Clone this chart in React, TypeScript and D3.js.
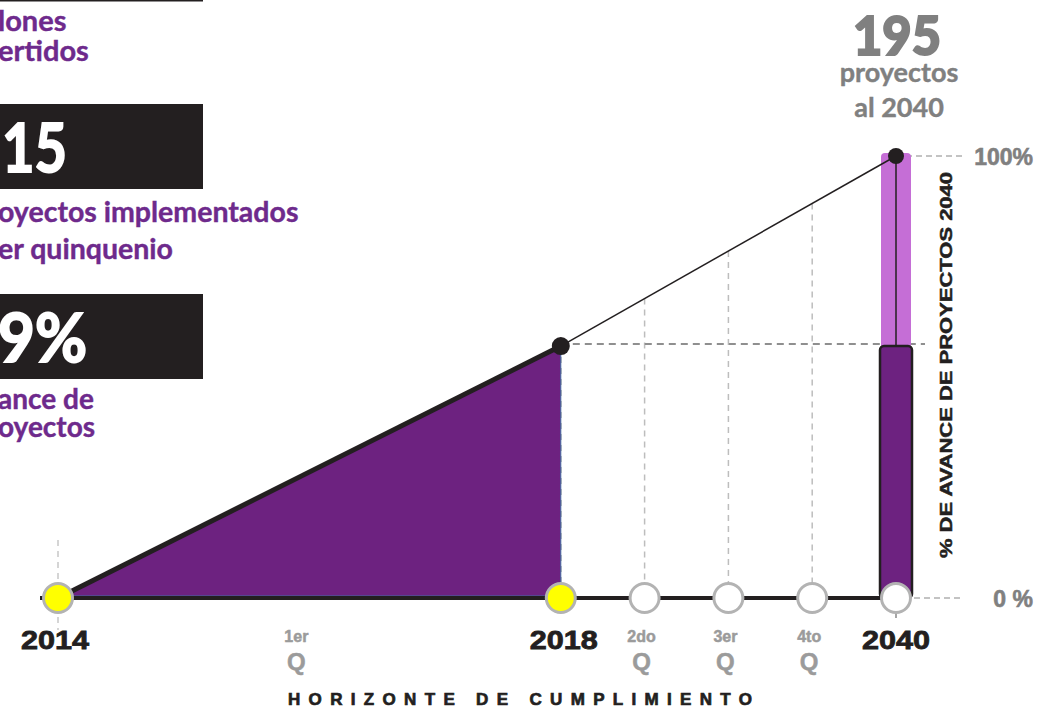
import React from "react";
import * as d3 from "d3";

// ---------- data ----------
const years = ["2014", "2018", "2040"];
const yearSteps = [0, 6, 10];
const yearProgress = [0, 57, 100];
const quarterTop = ["1er", "2do", "3er", "4to"];
const quarterBottom = ["Q", "Q", "Q", "Q"];
const quarterSteps = [2.88, 7, 8, 9];
const markerSteps = [0, 6, 7, 8, 9, 10];
const markerDone = [true, true, false, false, false, false];
const gridSteps = [7, 8, 9];
const pctTicks = [100, 0];
const pctTickLabels = ["100%", "0 %"];
const topCaption = ["lones", "ertidos"];
const statValues = ["15", "9%"];
const statCaptions = [
  ["oyectos implementados", "er quinquenio"],
  ["ance de", "oyectos"],
];
const headline = ["195", "proyectos", "al 2040"];
const xTitle = "HORIZONTE DE CUMPLIMIENTO";
const yTitle = "% DE AVANCE DE PROYECTOS 2040";

const W = 1037;
const H = 709;

const PURPLE_TXT = "#6e2a8c";
const DARK = "#231f20";
const FILL = "#6d2280";
const LIGHT = "#c56ed6";
const GREY_TXT = "#808080";

export default function App() {
  const x = d3.scaleLinear().domain([0, 10]).range([58, 896]);
  const y = d3.scaleLinear().domain([0, 100]).range([598, 156]);

  const x0 = x(yearSteps[0]);
  const x1 = x(yearSteps[1]);
  const x2 = x(yearSteps[2]);
  const y0 = y(yearProgress[0]);
  const y1 = y(yearProgress[1]);
  const y2 = y(yearProgress[2]);

  const area = d3
    .area<[number, number]>()
    .x((d) => x(d[0]))
    .y0(y(0))
    .y1((d) => y(d[1]));
  const pts: [number, number][] = [
    [yearSteps[0], yearProgress[0]],
    [yearSteps[1], yearProgress[1]],
  ];
  const line = d3.line<[number, number]>().x((d) => x(d[0])).y((d) => y(d[1]));

  const proj = d3
    .scaleLinear()
    .domain([yearSteps[1], yearSteps[2]])
    .range([yearProgress[1], yearProgress[2]]);

  const purpleFont = "Lato, 'Open Sans', sans-serif";
  const numFont = "'Liberation Sans', Arial, sans-serif";

  return (
    <svg
      width={W}
      height={H}
      style={{ position: "absolute", left: 0, top: 0, background: "#fff" }}
    >
      {/* ---------- left panel ---------- */}
      <line x1={0} x2={203} y1={0.5} y2={0.5} stroke={DARK} strokeWidth={2} />
      {topCaption.map((t, i) => (
        <text
          key={t}
          x={-2}
          y={31 + i * 30}
          fontFamily={purpleFont}
          fontWeight={700}
          fontSize={29}
          fill={PURPLE_TXT}
          stroke={PURPLE_TXT}
          strokeWidth={0.4}
        >
          {t}
        </text>
      ))}
      {statValues.map((v, i) => {
        const top = 104 + i * 190;
        return (
          <g key={v}>
            <rect x={0} y={top} width={203} height={85} fill={DARK} />
            <text
              x={i === 0 ? 2 : -2}
              y={top + 68}
              fontFamily={purpleFont}
              fontWeight={700}
              fontSize={66}
              fill="#fff"
              stroke="#fff"
              strokeWidth={2}
              textLength={i === 0 ? 65 : 89}
              lengthAdjust="spacingAndGlyphs"
            >
              {v}
            </text>
            {statCaptions[i].map((c, j) => (
              <text
                key={c}
                x={-2}
                y={i === 0 ? top + 118 + j * 37 : top + 115 + j * 28}
                fontFamily={purpleFont}
                fontWeight={700}
                fontSize={i === 0 ? 28.5 : 28}
                fill={PURPLE_TXT}
                stroke={PURPLE_TXT}
                strokeWidth={0.4}
              >
                {c}
              </text>
            ))}
          </g>
        );
      })}

      {/* ---------- headline ---------- */}
      <text
        x={897}
        y={55}
        textAnchor="middle"
        fontFamily={purpleFont}
        fontWeight={900}
        fontSize={54}
        fill={GREY_TXT}
        stroke={GREY_TXT}
        strokeWidth={2}
        textLength={88}
        lengthAdjust="spacingAndGlyphs"
      >
        {headline[0]}
      </text>
      <text
        x={899}
        y={82}
        textAnchor="middle"
        fontFamily={purpleFont}
        fontWeight={700}
        fontSize={27}
        fill={GREY_TXT}
        stroke={GREY_TXT}
        strokeWidth={0.4}
      >
        {headline[1]}
      </text>
      <text
        x={899}
        y={117}
        textAnchor="middle"
        fontFamily={purpleFont}
        fontWeight={700}
        fontSize={27}
        fill={GREY_TXT}
        stroke={GREY_TXT}
        strokeWidth={0.4}
      >
        {headline[2]}
      </text>

      {/* ---------- grid / guides ---------- */}
      {gridSteps.map((s) => (
        <line
          key={s}
          x1={x(s)}
          x2={x(s)}
          y1={y(proj(s))}
          y2={y(0) - 14}
          stroke="#bdbdbd"
          strokeWidth={1.5}
          strokeDasharray="6,5"
        />
      ))}
      <line
        x1={x0}
        x2={x0}
        y1={540}
        y2={630}
        stroke="#c8c8c8"
        strokeWidth={1.5}
        strokeDasharray="6,5"
      />
      <line
        x1={x1}
        x2={x1}
        y1={y1}
        y2={y0}
        stroke="#999"
        strokeWidth={1.5}
        strokeDasharray="6,5"
      />
      <line
        x1={x1}
        x2={925}
        y1={y1 - 2}
        y2={y1 - 2}
        stroke="#8f8f8f"
        strokeWidth={2}
        strokeDasharray="7,5"
      />
      <line
        x1={x2}
        x2={964}
        y1={y2}
        y2={y2}
        stroke="#b0b0b0"
        strokeWidth={1.5}
        strokeDasharray="6,4"
      />
      <line
        x1={914}
        x2={962}
        y1={y0}
        y2={y0}
        stroke="#b0b0b0"
        strokeWidth={1.5}
        strokeDasharray="6,4"
      />

      {/* ---------- area ---------- */}
      <path d={area(pts) || ""} fill={FILL} />
      <line x1={x1} x2={x1} y1={y1} y2={y0} stroke="#3f6aa0" strokeWidth={1} />
      <line x1={x0} x2={x1} y1={y0 - 2} y2={y0 - 2} stroke="#3f6aa0" strokeWidth={1} />

      {/* ---------- 2040 bar ---------- */}
      <rect
        x={x2 - 15}
        y={y2 - 3}
        width={30}
        height={y1 - y2 + 10}
        rx={4}
        fill={LIGHT}
      />
      <rect
        x={x2 - 16}
        y={y1}
        width={32}
        height={y0 - y1}
        rx={4}
        fill={FILL}
        stroke={DARK}
        strokeWidth={2.5}
      />
      <line x1={x2} x2={x2} y1={y2} y2={y1} stroke={DARK} strokeWidth={1.5} />

      {/* ---------- lines ---------- */}
      <line x1={40} x2={x2} y1={y0} y2={y0} stroke={DARK} strokeWidth={4} />
      <path d={line(pts) || ""} fill="none" stroke={DARK} strokeWidth={5} />
      <line x1={x1} x2={x2} y1={y1} y2={y2} stroke={DARK} strokeWidth={1.5} />
      <line x1={x2} x2={x2} y1={y0 + 10} y2={y0 + 20} stroke="#888" strokeWidth={1.5} />

      {/* ---------- markers ---------- */}
      {markerSteps.map((s, i) => (
        <circle
          key={s}
          cx={x(s)}
          cy={y0}
          r={14.5}
          fill={markerDone[i] ? "#ffff00" : "#fff"}
          stroke="#b3b3b3"
          strokeWidth={3}
        />
      ))}
      <circle cx={x1} cy={y1} r={9} fill={DARK} />
      <circle cx={x2} cy={y2} r={8} fill={DARK} />

      {/* ---------- x labels ---------- */}
      {years.map((t, i) => (
        <text
          key={t}
          x={x(yearSteps[i]) + (i === 0 ? -3 : i === 1 ? 3 : 0)}
          y={649}
          textAnchor="middle"
          fontFamily={numFont}
          fontWeight={700}
          fontSize={26}
          fill={DARK}
          stroke={DARK}
          strokeWidth={0.8}
          textLength={68}
          lengthAdjust="spacingAndGlyphs"
        >
          {t}
        </text>
      ))}
      {quarterSteps.map((s, i) => (
        <g
          key={quarterTop[i]}
          fill="#9b9b9b"
          stroke="#9b9b9b"
          strokeWidth={0.5}
          fontFamily={numFont}
          fontWeight={700}
        >
          <text x={x(s) - 3} y={642} textAnchor="middle" fontSize={16}>
            {quarterTop[i]}
          </text>
          <text x={x(s) - 3} y={670} textAnchor="middle" fontSize={24}>
            {quarterBottom[i]}
          </text>
        </g>
      ))}
      <text
        x={520}
        y={705}
        textAnchor="middle"
        fontFamily={numFont}
        fontWeight={700}
        fontSize={17}
        fill={DARK}
        stroke={DARK}
        strokeWidth={0.7}
        textLength={464}
        lengthAdjust="spacing"
      >
        {xTitle}
      </text>

      {/* ---------- y labels ---------- */}
      {pctTicks.map((p, i) => (
        <text
          key={p}
          x={1033}
          y={y(p) + 9}
          textAnchor="end"
          fontFamily={numFont}
          fontWeight={700}
          fontSize={23}
          fill={GREY_TXT}
          stroke={GREY_TXT}
          strokeWidth={0.6}
        >
          {pctTickLabels[i]}
        </text>
      ))}
      <text
        transform={`translate(952, ${(558 + 172) / 2}) rotate(-90)`}
        textAnchor="middle"
        fontFamily={numFont}
        fontWeight={700}
        fontSize={17}
        fill={DARK}
        stroke={DARK}
        strokeWidth={0.5}
        textLength={386}
        lengthAdjust="spacingAndGlyphs"
      >
        {yTitle}
      </text>
    </svg>
  );
}
